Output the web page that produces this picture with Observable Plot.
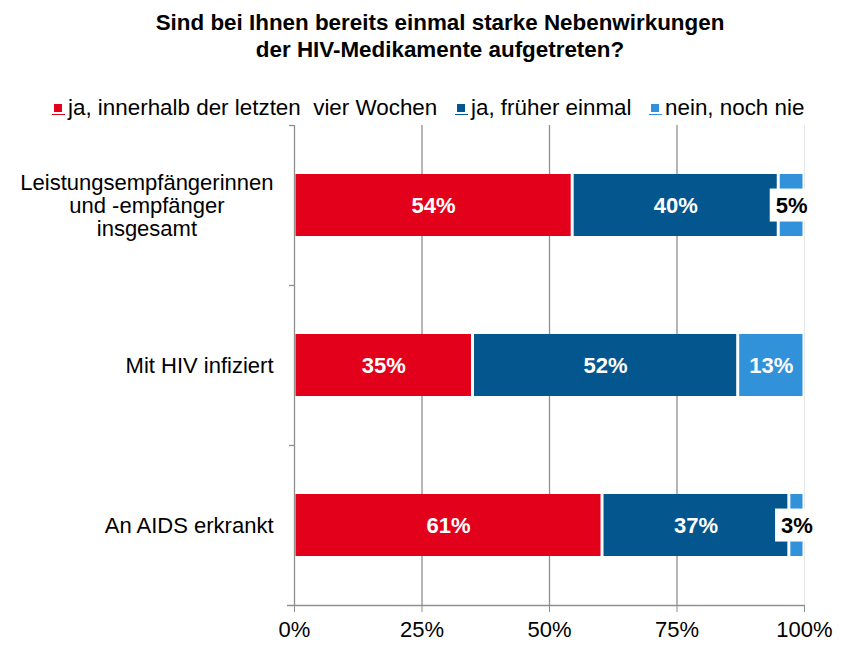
<!DOCTYPE html>
<html>
<head>
<meta charset="utf-8">
<script src="https://cdn.jsdelivr.net/npm/d3@7"></script>
<script src="https://cdn.jsdelivr.net/npm/@observablehq/plot@0.6"></script>
<style>
  html, body { margin: 0; padding: 0; background: #fff; }
  body { width: 844px; height: 646px; position: relative; overflow: hidden;
         font-family: "Liberation Sans", Arial, sans-serif; color: #000; }
  #title { position: absolute; left: 36px; width: 808px; top: 9px; text-align: center;
           font-weight: bold; font-size: 22.4px; line-height: 27px; }
  #legend { position: absolute; left: 0; top: 95px; height: 26px; font-size: 22.4px; line-height: 26px; white-space: pre; z-index: 2; }
  .item { position: absolute; top: 0; }
  .sw { position: absolute; top: 9px; width: 8px; height: 8px; }
  .ul { position: absolute; top: 19px; width: 13px; height: 1px; }
  #chart { position: absolute; left: 0; top: 115px; z-index: 1; }
</style>
</head>
<body>
<div id="title">Sind bei Ihnen bereits einmal starke Nebenwirkungen<br>der HIV-Medikamente aufgetreten?</div>
<div id="legend"></div>
<div id="chart"></div>
<script>
const categories = ["Leistungsempfängerinnen und -empfänger insgesamt", "Mit HIV infiziert", "An AIDS erkrankt"];
const categoryLabels = ["Leistungsempfängerinnen\nund -empfänger\ninsgesamt", "Mit HIV infiziert", "An AIDS erkrankt"];
const series = ["ja, innerhalb der letzten  vier Wochen", "ja, früher einmal", "nein, noch nie"];
const colors = ["#e3001b", "#03568e", "#3191d9"];
const recentValues = [54, 35, 61];
const earlierValues = [40, 52, 37];
const neverValues = [5, 13, 3];
const xTicks = [0, 0.25, 0.5, 0.75, 1];

const seriesValues = [recentValues, earlierValues, neverValues];
const rows = [];
categories.forEach((c, i) => series.forEach((s, j) => rows.push({cat: c, series: s, value: seriesValues[j][i]})));

// legend
const legendPos = [{sw: 54, tx: 68}, {sw: 457, tx: 471}, {sw: 651, tx: 665}];
const legend = document.getElementById("legend");
series.forEach((s, j) => {
  const sw = document.createElement("div");
  sw.className = "sw"; sw.style.left = legendPos[j].sw + "px"; sw.style.background = colors[j];
  const ul = document.createElement("div");
  ul.className = "ul"; ul.style.left = (legendPos[j].sw - 2) + "px"; ul.style.background = colors[j];
  const tx = document.createElement("div");
  tx.className = "item"; tx.style.left = legendPos[j].tx + "px"; tx.textContent = s;
  legend.append(sw, ul, tx);
});

const grey = "#8f8f8f";
const labelMap = new Map(categories.map((c, i) => [c, categoryLabels[i]]));
const stackOpts = {x: "value", y: "cat", z: "series", offset: "normalize"};

const plot = Plot.plot({
  width: 844,
  height: 531,
  marginTop: 10,
  marginBottom: 41,
  marginLeft: 294,
  marginRight: 40,
  style: {fontSize: "22px", fontFamily: "'Liberation Sans', Arial, sans-serif", color: "#000", background: "transparent", overflow: "visible"},
  x: {domain: [0, 1]},
  y: {domain: categories, paddingInner: 0.61, paddingOuter: 0.305},
  color: {domain: series, range: colors},
  marks: [
    Plot.ruleX([0.25, 0.5, 0.75], {stroke: grey, strokeWidth: 1.3}),
    Plot.ruleX([1], {stroke: "#e6e6e6", strokeWidth: 1}),
    Plot.barX(rows, Plot.stackX({...stackOpts, fill: "series", insetLeft: 1.5, insetRight: 1.5})),
    Plot.ruleX([0], {stroke: grey, strokeWidth: 1.3}),
    Plot.ruleY(categories, {y: d => d, x1: 0, x2: 0, insetLeft: -5, dy: -80, stroke: grey, strokeWidth: 1.3}),
    Plot.ruleY([categories[categories.length - 1]], {y: d => d, x1: 0, x2: 1, insetLeft: -7, dy: 80, stroke: grey, strokeWidth: 1.3}),
    Plot.text(rows, Plot.stackX({...stackOpts, text: d => d.value >= 10 ? d.value + "%" : null, fill: "white", fontWeight: "bold", fontSize: 22})),
    Plot.text(rows, Plot.stackX({...stackOpts, text: d => d.value < 10 ? d.value + "%" : null, fill: "black", fontWeight: "bold", fontSize: 22, ariaDescription: "small-label"})),
    Plot.axisX({ticks: xTicks, tickFormat: d3.format(".0%"), tickSize: 7, tickPadding: 9, stroke: grey, label: null}),
    Plot.axisY({tickSize: 0, tickPadding: 21, tickFormat: d => labelMap.get(d), lineHeight: 1.05, label: null})
  ]
});
document.getElementById("chart").append(plot);

// white boxes behind small labels
const smallTexts = [...plot.querySelectorAll('g[aria-description="small-label"] text')];
const fallback = smallTexts.length ? smallTexts : [...plot.querySelectorAll('g[fill="black"] text')];
fallback.forEach(t => {
  const b = t.getBBox();
  const r = document.createElementNS("http://www.w3.org/2000/svg", "rect");
  r.setAttribute("x", b.x - 6);
  r.setAttribute("y", b.y - 4);
  r.setAttribute("width", b.width + 12);
  r.setAttribute("height", b.height + 8);
  r.setAttribute("fill", "white");
  const tr = t.getAttribute("transform");
  if (tr) r.setAttribute("transform", tr);
  t.parentNode.insertBefore(r, t);
});

// center the lines of multi-line y labels within their block
plot.querySelectorAll('g[aria-label="y-axis tick label"] text').forEach(t => {
  const spans = t.querySelectorAll("tspan");
  if (spans.length > 1) {
    const b = t.getBBox();
    t.setAttribute("text-anchor", "middle");
    spans.forEach(s => s.setAttribute("x", b.x + b.width / 2));
  }
});
</script>
</body>
</html>
